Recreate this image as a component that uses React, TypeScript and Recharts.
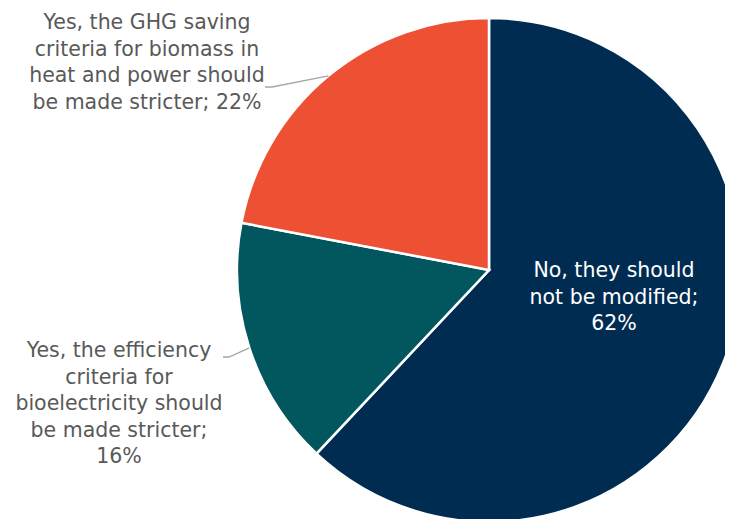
import { Cell, Pie, PieChart } from "recharts";

const categories = [
  "No, they should not be modified",
  "Yes, the efficiency criteria for bioelectricity should be made stricter",
  "Yes, the GHG saving criteria for biomass in heat and power should be made stricter",
];
const shares = [62, 16, 22];
// how each category label wraps in the picture
const wrapped = [
  ["No, they should", "not be modified;"],
  ["Yes, the efficiency", "criteria for", "bioelectricity should", "be made stricter;"],
  ["Yes, the GHG saving", "criteria for biomass in", "heat and power should", "be made stricter;"],
];
const pctInline = [false, false, true];

const COLORS = ["#012c52", "#02575e", "#ee5033"];
const W = 725;
const H = 511;
const CX = 481;
const CY = 262;
const R = 252;
const LINE_H = 26.5;
const FONT = "'DejaVu Sans', sans-serif";

// text anchor (first baseline) and leader elbow per slice
const layout = [
  { x: 606, y: 269, color: "#ffffff", elbow: null as null | number[] },
  { x: 111, y: 349, color: "#595959", elbow: [221, 349, 215, 349] },
  { x: 139, y: 21, color: "#595959", elbow: [264, 79, 257, 79] },
];

const data = categories.map((name, i) => ({ name, value: shares[i] }));

const RAD = Math.PI / 180;

function renderLabel(props: any) {
  const { cx, cy, midAngle, outerRadius, index, value } = props;
  const l = layout[index];
  const lines = [...wrapped[index]];
  if (pctInline[index]) lines[lines.length - 1] += ` ${value}%`;
  else lines.push(`${value}%`);
  let leader = null;
  if (l.elbow) {
    const sx = cx + outerRadius * Math.cos(-midAngle * RAD);
    const sy = cy + outerRadius * Math.sin(-midAngle * RAD);
    const [ex, ey, tx, ty] = l.elbow;
    leader = (
      <polyline points={`${sx},${sy} ${ex},${ey} ${tx},${ty}`} fill="none" stroke="#a6a6a6" strokeWidth={1.3} />
    );
  }
  return (
    <g key={`lbl-${index}`}>
      {leader}
      <text x={l.x} y={l.y} textAnchor="middle" fill={l.color} fontFamily={FONT} fontSize={20.5}>
        {lines.map((t, i) => (
          <tspan key={i} x={l.x} y={l.y + i * LINE_H}>{t}</tspan>
        ))}
      </text>
    </g>
  );
}

export default function App() {
  return (
    <div style={{ width: W, height: H, overflow: "hidden", background: "#fff" }}>
      <PieChart width={W} height={H} margin={{ top: 0, right: 0, bottom: 0, left: 0 }}>
        <Pie
          data={data}
          dataKey="value"
          nameKey="name"
          cx={CX}
          cy={CY}
          outerRadius={R}
          startAngle={90}
          endAngle={-270}
          stroke="#ffffff"
          strokeWidth={2.5}
          label={renderLabel}
          labelLine={false}
          isAnimationActive={false}
        >
          {data.map((d, i) => (
            <Cell key={d.name} fill={COLORS[i]} />
          ))}
        </Pie>
      </PieChart>
    </div>
  );
}
